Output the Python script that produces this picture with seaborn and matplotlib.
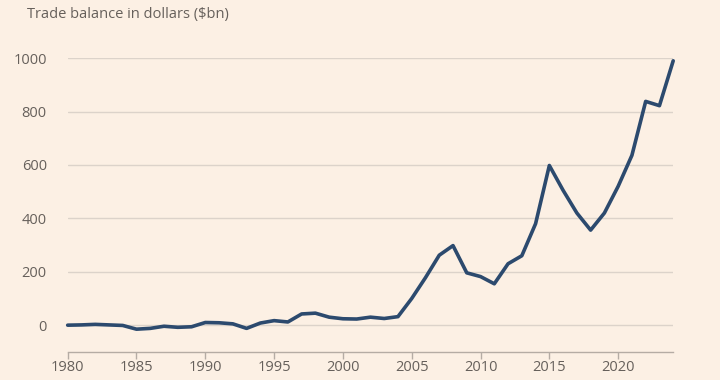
import pandas as pd
import matplotlib.pyplot as plt
import seaborn as sns

# Trade balance values ($bn)
years = list(range(1980, 2025))
balance = [0, 1, 3, 1, -1, -15, -12, -4, -8, -6,
           10, 9, 5, -12, 8, 17, 12, 42, 45, 30,
           24, 23, 30, 25, 32, 100, 178, 262, 298, 196,
           182, 155, 230, 260, 380, 598, 505, 420, 356, 420,
           520, 636, 838, 822, 990]
x_ticks = [1980, 1985, 1990, 1995, 2000, 2005, 2010, 2015, 2020]
y_ticks = [0, 200, 400, 600, 800, 1000]

df = pd.DataFrame({"year": years, "balance": balance})

bg = "#fcf0e4"
text_col = "#66605b"
grid_col = "#dcd3ca"

sns.set_theme(style="white")
plt.rcParams["font.family"] = ["Open Sans", "DejaVu Sans"]

fig = plt.figure(figsize=(7.2, 3.8), dpi=100, facecolor=bg)
ax = fig.add_axes([0.094, 0.074, 0.841, 0.773])
ax.set_facecolor(bg)

sns.lineplot(data=df, x="year", y="balance", ax=ax, color="#2c4a6e",
             linewidth=2.6, clip_on=False, zorder=3)

ax.set_xlim(1980, 2024)
ax.set_ylim(-100, 1000)
ax.set_xticks(x_ticks)
ax.set_yticks(y_ticks)
ax.set_xlabel("")
ax.set_ylabel("")

for v in y_ticks:
    ax.axhline(v, color=grid_col, linewidth=1, zorder=1)

for side in ["left", "right", "top"]:
    ax.spines[side].set_visible(False)
ax.spines["bottom"].set_color("#b5aca4")
ax.spines["bottom"].set_linewidth(1)

ax.tick_params(axis="x", bottom=True, length=5, width=1, color="#b5aca4",
               labelsize=10.5, labelcolor=text_col, pad=1)
ax.tick_params(axis="y", left=False, labelsize=10.5, labelcolor=text_col, pad=9)

fig.text(0.038, 0.963, "Trade balance in dollars ($bn)", fontsize=10.5,
         color=text_col, va="center", ha="left")

fig.savefig("out.png", dpi=100, facecolor=bg)
